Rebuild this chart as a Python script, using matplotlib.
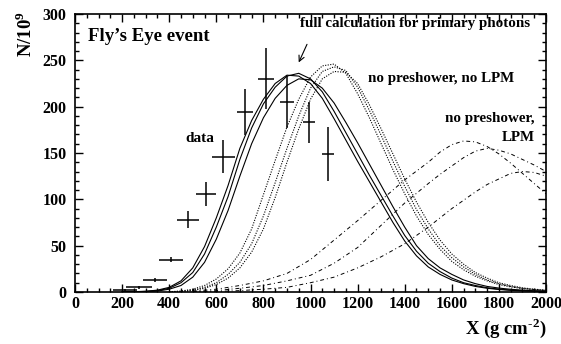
import numpy as np
import matplotlib
matplotlib.use('Agg')
import matplotlib.pyplot as plt
from matplotlib.ticker import MultipleLocator

plt.rcParams['font.family'] = ['Liberation Serif', 'DejaVu Serif']
plt.rcParams['font.weight'] = 'bold'
plt.rcParams['mathtext.fontset'] = 'custom'
plt.rcParams['mathtext.rm'] = 'Liberation Serif:bold'
plt.rcParams['mathtext.bf'] = 'Liberation Serif:bold'

# Fly's Eye data points
data_x = [212, 270, 340, 408, 480, 555, 630, 722, 811, 900, 994, 1074]
data_n = [2, 5, 13, 35, 78, 106, 146, 194, 230, 205, 183, 149]
data_xerr = [50, 55, 50, 51, 47, 42, 50, 34, 32, 28, 26, 24]
data_nerr = [1, 2, 2, 3, 9, 13, 18, 25, 33, 28, 22, 29]

# full calculation for primary photons (solid)
full_x = [200, 250, 300, 350, 400, 450, 500, 550, 600, 650, 700, 750, 800,
          850, 900, 950, 1000, 1050, 1100, 1150, 1200, 1250, 1300, 1350,
          1400, 1450, 1500, 1550, 1600, 1650, 1700, 1750, 1800, 1850, 1900,
          1950, 2000]
full_a = [0.1, 0.3, 0.8, 2, 5, 12, 26, 49, 80, 115, 155, 185, 208, 225, 234,
          233, 225, 209, 187, 164, 141, 119, 97, 75, 55, 39, 27, 19, 13, 9,
          6, 4, 2.7, 1.8, 1.2, 0.8, 0.5]
full_b = [0.1, 0.2, 0.6, 1.5, 4, 10, 21, 41, 70, 103, 143, 177, 203, 221,
          233, 236, 230, 216, 195, 172, 149, 126, 104, 82, 61, 44, 31, 22,
          15, 10, 7, 4.6, 3.1, 2.1, 1.4, 0.9, 0.6]
full_c = [0.1, 0.2, 0.4, 1, 3, 7, 16, 32, 57, 88, 125, 160, 188, 209, 223,
          230, 229, 220, 204, 183, 161, 138, 115, 92, 70, 50, 36, 26, 19, 13,
          9, 6, 4.2, 2.9, 2, 1.3, 0.9]

# no preshower, no LPM (dotted)
nolpm_x = [400, 450, 500, 550, 600, 650, 700, 750, 800, 850, 900, 950, 1000,
           1050, 1100, 1150, 1200, 1250, 1300, 1350, 1400, 1450, 1500, 1550,
           1600, 1650, 1700, 1750, 1800, 1850, 1900, 1950, 2000]
nolpm_a = [0.3, 1, 3, 7, 14, 25, 42, 68, 105, 142, 178, 208, 232, 244, 246,
           236, 214, 188, 160, 132, 106, 82, 62, 46, 33, 24, 17, 12, 8, 5.5,
           3.6, 2.4, 1.5]
nolpm_b = [0.2, 0.7, 2, 5, 10, 19, 32, 52, 82, 118, 155, 190, 220, 238, 243,
           239, 221, 196, 169, 141, 114, 89, 68, 50, 37, 27, 19, 13, 9, 6,
           4, 2.6, 1.7]
nolpm_c = [0.1, 0.5, 1.5, 4, 8, 15, 26, 43, 68, 102, 140, 176, 208, 230, 238,
           237, 225, 202, 176, 149, 122, 97, 75, 56, 41, 30, 21, 15, 10, 7,
           4.5, 3, 2]

# no preshower, LPM (dash-dot)
lpm_x = [500, 600, 700, 800, 900, 1000, 1100, 1200, 1300, 1400, 1500, 1550,
         1600, 1650, 1700, 1750, 1800, 1850, 1900, 1950, 2000]
lpm_a = [1, 3, 7, 12, 20, 35, 56, 77, 99, 121, 140, 151, 159, 163, 162, 157,
         149, 139, 128, 117, 106]
lpm_b = [0.3, 1.5, 4, 7, 12, 18, 31, 48, 72, 96, 117, 127, 136, 145, 152,
         155, 153, 149, 143, 137, 130]
lpm_c = [0.1, 0.5, 1.5, 3, 5, 10, 16, 26, 38, 52, 70, 80, 90, 99, 108, 116,
         122, 128, 130, 129, 125]

fig = plt.figure(figsize=(5.61, 3.44), dpi=100)
ax = fig.add_axes([0.1337, 0.1512, 0.8396, 0.8081])

for n in (full_a, full_b, full_c):
    ax.plot(full_x, n, color='black', lw=0.8)
for n in (nolpm_a, nolpm_b, nolpm_c):
    ax.plot(nolpm_x, n, color='black', lw=0.8, linestyle=(0, (1, 1.3)))
for n in (lpm_a, lpm_b, lpm_c):
    ax.plot(lpm_x, n, color='black', lw=0.7, linestyle=(0, (4, 3, 1, 3)))

ax.errorbar(data_x, data_n, xerr=data_xerr, yerr=data_nerr, fmt='none',
            ecolor='black', elinewidth=1.1, capsize=0)

ax.set_xlim(0, 2000)
ax.set_ylim(0, 300)
ax.xaxis.set_major_locator(MultipleLocator(200))
ax.xaxis.set_minor_locator(MultipleLocator(50))
ax.yaxis.set_major_locator(MultipleLocator(50))
ax.yaxis.set_minor_locator(MultipleLocator(10))
ax.tick_params(which='both', direction='in', top=True, right=True,
               width=1.0, labelsize=11.5)
ax.tick_params(which='major', length=6)
ax.tick_params(which='minor', length=3)
ax.tick_params(axis='x', pad=3)
ax.tick_params(axis='y', pad=6)
for s in ax.spines.values():
    s.set_linewidth(1.2)

ax.text(55, 271, "Fly\u2019s Eye event", fontsize=13.5, fontweight='bold')
ax.text(1444, 290, 'full calculation for primary photons', fontsize=10.8,
        ha='center', va='center', fontweight='bold')
ax.annotate('', xy=(945, 245), xytext=(990, 270),
            arrowprops=dict(arrowstyle='->', color='black', lw=0.8))
ax.text(1555, 230, 'no preshower, no LPM', fontsize=10.8, ha='center',
        va='center', fontweight='bold')
ax.text(1953, 187, 'no preshower,', fontsize=10.8, ha='right', va='center',
        fontweight='bold')
ax.text(1953, 167, 'LPM', fontsize=10.8, ha='right', va='center',
        fontweight='bold')
ax.text(531, 166, 'data', fontsize=11, ha='center', va='center',
        fontweight='bold')

fig.text(0.975, 0.045, 'X (g cm$^{\\mathbf{\u20102}}$)', fontsize=13.5,
         ha='right', va='center', fontweight='bold')
fig.text(0.045, 0.9, r'N/10$^{\mathbf{9}}$', fontsize=13.5, rotation=90,
         ha='center', va='center', fontweight='bold')

fig.savefig('out.png', dpi=100)
